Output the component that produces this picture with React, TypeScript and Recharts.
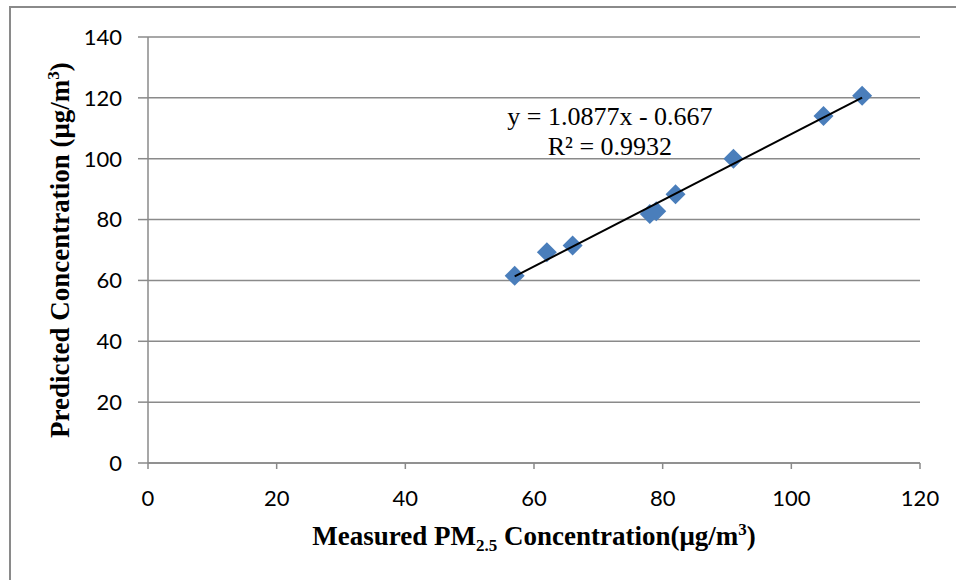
import React from 'react';
import {
  ComposedChart,
  Scatter,
  XAxis,
  YAxis,
  CartesianGrid,
  ReferenceDot,
} from 'recharts';

const measured = [57, 62, 66, 78, 79, 82, 91, 105, 111];
const predicted = [61.5, 69.3, 71.5, 81.8, 82.7, 88.3, 100, 114, 120.7];
const trendX = [57, 111];
const trendY = [61.33, 120.07];
const xTicks = [0, 20, 40, 60, 80, 100, 120];
const yTicks = [0, 20, 40, 60, 80, 100, 120, 140];
const equationText = 'y = 1.0877x - 0.667';
const r2Text = 'R² = 0.9932';

const points = measured.map((x, i) => ({ x, y: predicted[i] }));
const trend = trendX.map((x, i) => ({ x, y: trendY[i] }));

const BLUE = '#4a7ebb';
const GRID = '#8a8a8a';
const SERIF = '"Liberation Serif", "Times New Roman", serif';
const SANS = 'Lato, Carlito, Calibri, sans-serif';

const Diamond = (props: any) => {
  const { cx, cy } = props;
  if (cx == null || cy == null) return <g />;
  const r = 10;
  return (
    <polygon
      points={`${cx},${cy - r} ${cx + r},${cy} ${cx},${cy + r} ${cx - r},${cy}`}
      fill={BLUE}
    />
  );
};

const NoShape = () => <g />;

const XTitle = (props: any) => {
  const vb = props.viewBox || {};
  const cx = vb.x + vb.width / 2;
  const y = vb.y + 82;
  return (
    <text x={cx} y={y} textAnchor="middle" fontFamily={SERIF} fontWeight="bold" fontSize={27} fill="#000">
      <tspan>Measured PM</tspan>
      <tspan fontSize={17} dy={6}>2.5</tspan>
      <tspan dy={-6}> Concentration(μg/m</tspan>
      <tspan fontSize={17} dy={-10}>3</tspan>
      <tspan dy={10}>)</tspan>
    </text>
  );
};

const YTitle = (props: any) => {
  const vb = props.viewBox || {};
  const x = 69;
  const cy = vb.y + vb.height / 2;
  return (
    <text
      x={x}
      y={cy}
      transform={`rotate(-90 ${x} ${cy})`}
      textAnchor="middle"
      fontFamily={SERIF}
      fontWeight="bold"
      fontSize={27}
      fill="#000"
    >
      <tspan>Predicted Concentration (μg/m</tspan>
      <tspan fontSize={17} dy={-10}>3</tspan>
      <tspan dy={10}>)</tspan>
    </text>
  );
};

export default function App() {
  return (
    <div style={{ position: 'absolute', left: 0, top: 0, width: 956, height: 580, background: '#fff', overflow: 'hidden' }}>
      <div
        style={{
          position: 'absolute',
          left: 9,
          top: 6,
          width: 1000,
          height: 1000,
          border: '2px solid #8a8a8a',
          boxSizing: 'border-box',
        }}
      />
      <div style={{ position: 'absolute', left: 0, top: 0 }}>
        <ComposedChart
          width={956}
          height={580}
          margin={{ top: 37, right: 36, bottom: 0, left: 0 }}
        >
          <CartesianGrid vertical={false} stroke={GRID} strokeWidth={1.5} />
          <XAxis
            type="number"
            dataKey="x"
            domain={[0, 120]}
            ticks={xTicks}
            interval={0}
            height={117}
            allowDuplicatedCategory={false}
            stroke={GRID}
            strokeWidth={1.5}
            tickSize={6}
            tickMargin={21}
            tick={{ fill: '#000', fontSize: 22, fontFamily: SANS }}
            label={<XTitle />}
          />
          <YAxis
            type="number"
            dataKey="y"
            domain={[0, 140]}
            ticks={yTicks}
            interval={0}
            width={148}
            stroke={GRID}
            strokeWidth={1.5}
            tickSize={10}
            tickMargin={16}
            tick={{ fill: '#000', fontSize: 22, fontFamily: SANS }}
            label={<YTitle />}
          />
          <Scatter data={points} dataKey="y" shape={<Diamond />} isAnimationActive={false} />
          <Scatter
            data={trend}
            dataKey="y"
            line={{ stroke: '#000', strokeWidth: 2 }}
            shape={<NoShape />}
            isAnimationActive={false}
          />
          <ReferenceDot
            x={71.8}
            y={114}
            r={0}
            fill="none"
            stroke="none"
            ifOverflow="visible"
            label={{ value: equationText, position: 'center', fill: '#000', fontSize: 26, fontFamily: SERIF }}
          />
          <ReferenceDot
            x={71.8}
            y={104.2}
            r={0}
            fill="none"
            stroke="none"
            ifOverflow="visible"
            label={{ value: r2Text, position: 'center', fill: '#000', fontSize: 26, fontFamily: SERIF }}
          />
        </ComposedChart>
      </div>
    </div>
  );
}
